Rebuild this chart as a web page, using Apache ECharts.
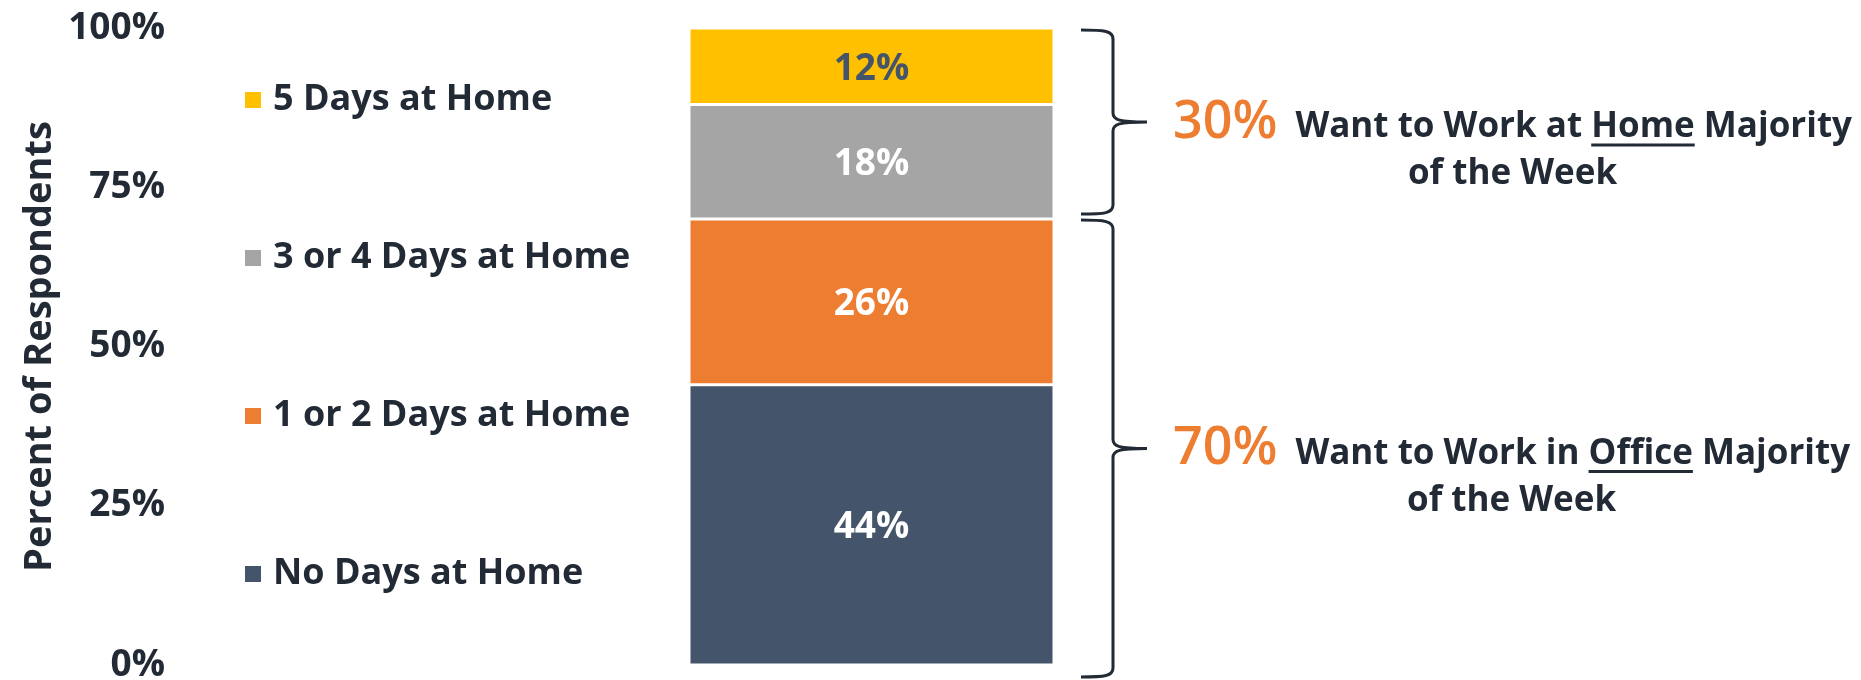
<!DOCTYPE html>
<html>
<head>
<meta charset="utf-8">
<title>Preferred Days Working from Home</title>
<script src="https://cdn.jsdelivr.net/npm/echarts@6/dist/echarts.min.js"></script>
<style>
  html, body { margin: 0; padding: 0; background: #ffffff; }
  #chart { width: 1861px; height: 680px; }
</style>
</head>
<body>
<div id="chart"></div>
<script>
// ---- data ----
const categories = ['All Respondents'];
const seriesNames = ['No Days at Home', '1 or 2 Days at Home', '3 or 4 Days at Home', '5 Days at Home'];
const seriesValues = [44, 26, 18, 12];
const legendOrder = ['5 Days at Home', '3 or 4 Days at Home', '1 or 2 Days at Home', 'No Days at Home'];
const yTicks = [0, 25, 50, 75, 100];

// majority groupings shown by the braces: [low, high] share of respondents
const groupRanges = [[0, 70], [70, 100]];
const groupShares = [70, 30];
const groupTextBefore = ['Want to Work in ', 'Want to Work at '];
const groupKeyword = ['Office', 'Home'];
const groupTextAfter = [' Majority', ' Majority'];
const groupSecondLine = ['of the Week', 'of the Week'];

// ---- styles ----
const DARK = '#222a35';
const ORANGE = '#ED7D31';
const FONT = '"Open Sans", "Liberation Sans", sans-serif';
const seriesColors = ['#44546A', '#ED7D31', '#A5A5A5', '#FFC000'];
const labelColors = ['#ffffff', '#ffffff', '#ffffff', '#44546A'];
// pixel extension of each brace beyond its value range [bottom, top]
const bracePad = [[12, 1], [-5, 2]];

const measureCtx = document.createElement('canvas').getContext('2d');
function textWidth(str, font) {
  measureCtx.font = font;
  return measureCtx.measureText(str).width;
}

const chart = echarts.init(document.getElementById('chart'));

const barSeries = seriesNames.map((name, i) => ({
  name: name,
  type: 'bar',
  stack: 'total',
  barCategoryGap: '0%',
  data: [seriesValues[i]],
  itemStyle: { color: seriesColors[i], borderColor: '#ffffff', borderWidth: 1.5 },
  label: {
    show: true,
    position: 'inside',
    offset: [0, 3],
    formatter: '{c}%',
    fontFamily: FONT,
    fontWeight: 'bold',
    fontSize: 37,
    color: labelColors[i]
  },
  emphasis: { disabled: true }
}));

const braceSeries = {
  type: 'custom',
  name: 'groups',
  silent: true,
  clip: false,
  z: 5,
  encode: { x: 0, y: [1, 2] },
  data: groupRanges.map((r, i) => [0, r[0], r[1], i]),
  renderItem: function (params, api) {
    const idx = api.value(3);
    const center = api.coord([0, 0])[0];
    const width = api.size([1, 0])[0];
    const right = center + width / 2;
    const yTop = api.coord([0, api.value(2)])[1] + bracePad[idx][1];
    const yBot = api.coord([0, api.value(1)])[1] + bracePad[idx][0];
    const yMid = (yTop + yBot) / 2;
    const x0 = right + 27, xv = right + 59, xt = right + 93;

    const path =
      'M' + x0 + ' ' + yTop +
      ' C' + (xv - 8) + ' ' + yTop + ' ' + xv + ' ' + (yTop + 1) + ' ' + xv + ' ' + (yTop + 9) +
      ' L' + xv + ' ' + (yMid - 9) +
      ' C' + xv + ' ' + (yMid - 2) + ' ' + (xv + 6) + ' ' + yMid + ' ' + xt + ' ' + yMid +
      ' C' + (xv + 6) + ' ' + yMid + ' ' + xv + ' ' + (yMid + 2) + ' ' + xv + ' ' + (yMid + 9) +
      ' L' + xv + ' ' + (yBot - 9) +
      ' C' + xv + ' ' + (yBot - 1) + ' ' + (xv - 8) + ' ' + yBot + ' ' + x0 + ' ' + yBot;

    const bigFont = '600 52px ' + FONT;
    const mainFont = '700 35px ' + FONT;
    const shareText = groupShares[idx] + '%';
    const wShare = textWidth(shareText, bigFont);
    const wBefore = textWidth(groupTextBefore[idx], mainFont);
    const wKey = textWidth(groupKeyword[idx], mainFont);
    const wAfter = textWidth(groupTextAfter[idx], mainFont);
    const gap = 18;
    const xStart = xt + 26;
    const xMain = xStart + wShare + gap;
    const lineCenter = xStart + (wShare + gap + wBefore + wKey + wAfter) / 2;

    return {
      type: 'group',
      children: [
        { type: 'path', shape: { pathData: path },
          style: { fill: 'none', stroke: DARK, lineWidth: 3 } },
        { type: 'text', style: { x: xStart, y: yMid + 1, text: shareText, font: bigFont,
          fill: ORANGE, align: 'left', verticalAlign: 'middle' } },
        { type: 'text', style: { x: xMain, y: yMid + 5, text: groupTextBefore[idx], font: mainFont,
          fill: DARK, align: 'left', verticalAlign: 'middle' } },
        { type: 'text', style: { x: xMain + wBefore, y: yMid + 5, text: groupKeyword[idx], font: mainFont,
          fill: DARK, align: 'left', verticalAlign: 'middle' } },
        { type: 'line', shape: { x1: xMain + wBefore, y1: yMid + 23, x2: xMain + wBefore + wKey, y2: yMid + 23 },
          style: { stroke: DARK, lineWidth: 3 } },
        { type: 'text', style: { x: xMain + wBefore + wKey, y: yMid + 5, text: groupTextAfter[idx], font: mainFont,
          fill: DARK, align: 'left', verticalAlign: 'middle' } },
        { type: 'text', style: { x: lineCenter, y: yMid + 52, text: groupSecondLine[idx], font: mainFont,
          fill: DARK, align: 'center', verticalAlign: 'middle' } }
      ]
    };
  }
};

chart.setOption({
  animation: false,
  backgroundColor: '#ffffff',
  textStyle: { fontFamily: FONT },
  grid: { left: 689, right: 807, top: 28, bottom: 15, outerBoundsMode: 'none', containLabel: false },
  legend: {
    data: legendOrder,
    orient: 'vertical',
    left: 243,
    top: 80,
    padding: 0,
    icon: 'rect',
    itemWidth: 18,
    itemHeight: 18,
    itemGap: 118,
    selectedMode: false,
    textStyle: { fontFamily: FONT, fontWeight: 'bold', fontSize: 36, color: DARK, lineHeight: 40, padding: [0, 0, 0, 6] }
  },
  xAxis: {
    type: 'category',
    data: categories,
    show: false
  },
  yAxis: {
    type: 'value',
    min: yTicks[0],
    max: yTicks[yTicks.length - 1],
    interval: yTicks[1] - yTicks[0],
    name: 'Percent of Respondents',
    nameLocation: 'middle',
    nameRotate: 90,
    nameGap: 630,
    nameTextStyle: { fontFamily: FONT, fontWeight: 'bold', fontSize: 38, color: DARK },
    axisLine: { show: false },
    axisTick: { show: false },
    splitLine: { show: false },
    axisLabel: {
      margin: 524,
      formatter: '{value}%',
      fontFamily: FONT,
      fontWeight: 'bold',
      fontSize: 37,
      color: DARK
    }
  },
  series: barSeries.concat([braceSeries])
});
</script>
</body>
</html>
